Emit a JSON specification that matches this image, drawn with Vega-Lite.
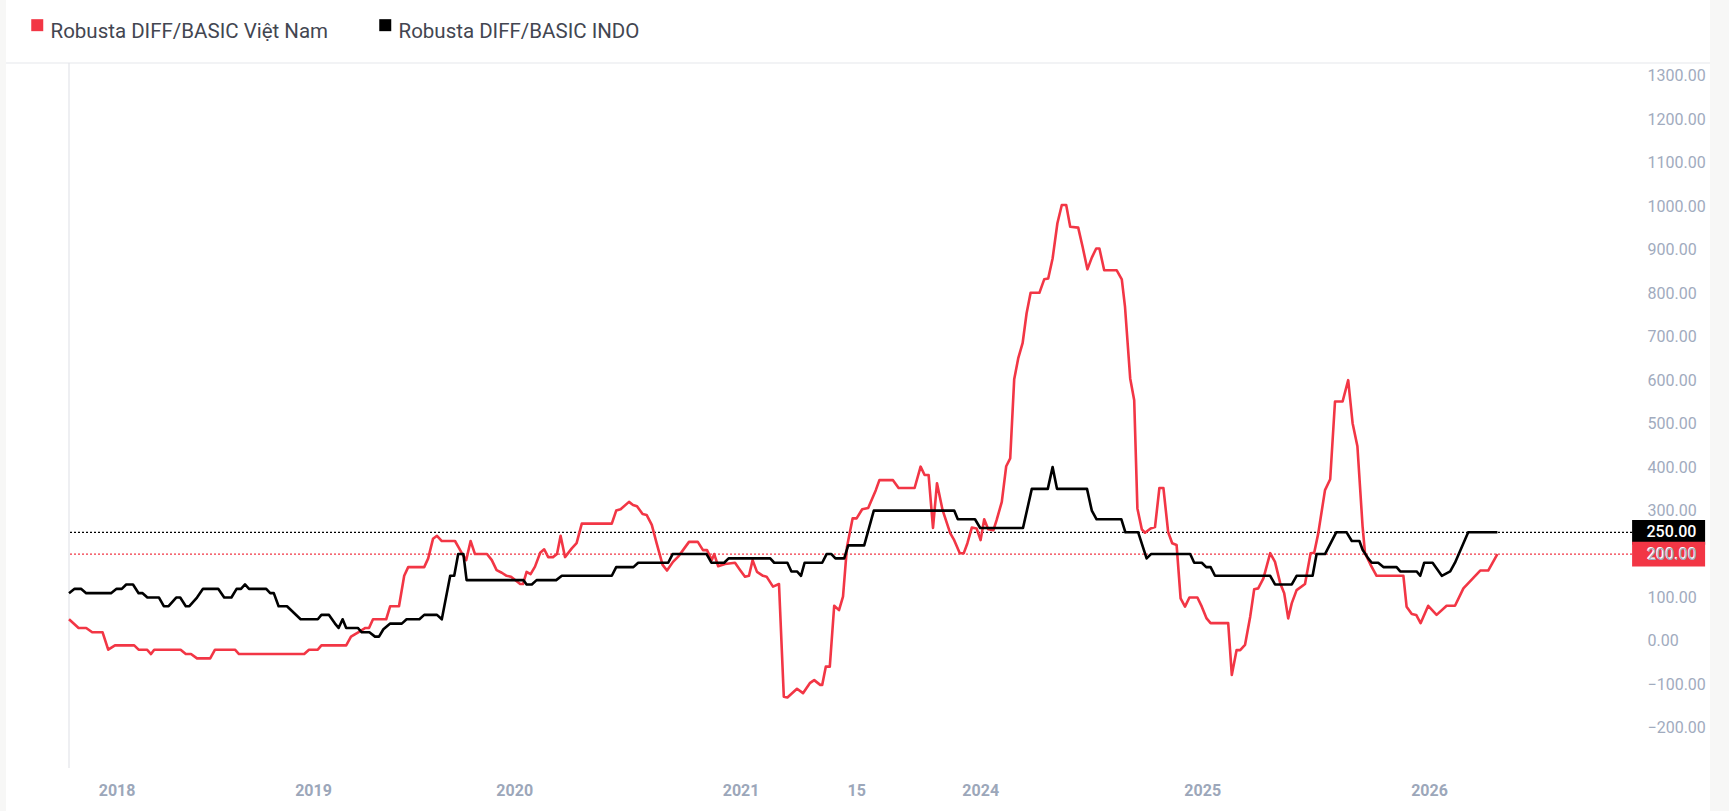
{
  "$schema": "https://vega.github.io/schema/vega-lite/v6.json",
  "width": 1563,
  "height": 705,
  "autosize": {"type": "none"},
  "padding": {"left": 69, "top": 63, "right": 97, "bottom": 43},
  "background": "#f7f7f6",
  "config": {"view": {"stroke": null}, "font": "Roboto"},
  "datasets": {
    "last": [
      {"s": "Robusta DIFF/BASIC INDO", "v": 250},
      {"s": "Robusta DIFF/BASIC Việt Nam", "v": 200}
    ],
    "frame": [{"k": 1}],
    "lines": [
      {"s":"Robusta DIFF/BASIC Việt Nam","i":0,"v":50},{"s":"Robusta DIFF/BASIC Việt Nam","i":2.4,"v":30},{"s":"Robusta DIFF/BASIC Việt Nam","i":4.3,"v":30},{"s":"Robusta DIFF/BASIC Việt Nam","i":5.8,"v":20},{"s":"Robusta DIFF/BASIC Việt Nam","i":8.4,"v":20},{"s":"Robusta DIFF/BASIC Việt Nam","i":9.8,"v":-20},{"s":"Robusta DIFF/BASIC Việt Nam","i":11.5,"v":-10},{"s":"Robusta DIFF/BASIC Việt Nam","i":16.3,"v":-10},{"s":"Robusta DIFF/BASIC Việt Nam","i":17.4,"v":-20},{"s":"Robusta DIFF/BASIC Việt Nam","i":19.5,"v":-20},{"s":"Robusta DIFF/BASIC Việt Nam","i":20.5,"v":-30},{"s":"Robusta DIFF/BASIC Việt Nam","i":21.3,"v":-20},{"s":"Robusta DIFF/BASIC Việt Nam","i":27.9,"v":-20},{"s":"Robusta DIFF/BASIC Việt Nam","i":29.2,"v":-30},{"s":"Robusta DIFF/BASIC Việt Nam","i":30.5,"v":-30},{"s":"Robusta DIFF/BASIC Việt Nam","i":32,"v":-40},{"s":"Robusta DIFF/BASIC Việt Nam","i":35.3,"v":-40},{"s":"Robusta DIFF/BASIC Việt Nam","i":36.5,"v":-20},{"s":"Robusta DIFF/BASIC Việt Nam","i":41.5,"v":-20},{"s":"Robusta DIFF/BASIC Việt Nam","i":42.5,"v":-30},{"s":"Robusta DIFF/BASIC Việt Nam","i":58.8,"v":-30},{"s":"Robusta DIFF/BASIC Việt Nam","i":60,"v":-20},{"s":"Robusta DIFF/BASIC Việt Nam","i":62.2,"v":-20},{"s":"Robusta DIFF/BASIC Việt Nam","i":63.1,"v":-10},{"s":"Robusta DIFF/BASIC Việt Nam","i":69.3,"v":-10},{"s":"Robusta DIFF/BASIC Việt Nam","i":70.5,"v":10},{"s":"Robusta DIFF/BASIC Việt Nam","i":72.3,"v":20},{"s":"Robusta DIFF/BASIC Việt Nam","i":74.1,"v":30},{"s":"Robusta DIFF/BASIC Việt Nam","i":75,"v":30},{"s":"Robusta DIFF/BASIC Việt Nam","i":76,"v":50},{"s":"Robusta DIFF/BASIC Việt Nam","i":79.3,"v":50},{"s":"Robusta DIFF/BASIC Việt Nam","i":80.3,"v":80},{"s":"Robusta DIFF/BASIC Việt Nam","i":82.5,"v":80},{"s":"Robusta DIFF/BASIC Việt Nam","i":83.8,"v":150},{"s":"Robusta DIFF/BASIC Việt Nam","i":84.8,"v":170},{"s":"Robusta DIFF/BASIC Việt Nam","i":88.8,"v":170},{"s":"Robusta DIFF/BASIC Việt Nam","i":89.8,"v":190},{"s":"Robusta DIFF/BASIC Việt Nam","i":91,"v":235},{"s":"Robusta DIFF/BASIC Việt Nam","i":92,"v":242},{"s":"Robusta DIFF/BASIC Việt Nam","i":93.2,"v":230},{"s":"Robusta DIFF/BASIC Việt Nam","i":96.5,"v":230},{"s":"Robusta DIFF/BASIC Việt Nam","i":97.3,"v":217},{"s":"Robusta DIFF/BASIC Việt Nam","i":98.2,"v":202},{"s":"Robusta DIFF/BASIC Việt Nam","i":99.3,"v":186},{"s":"Robusta DIFF/BASIC Việt Nam","i":100.4,"v":230},{"s":"Robusta DIFF/BASIC Việt Nam","i":101.5,"v":200},{"s":"Robusta DIFF/BASIC Việt Nam","i":104.5,"v":200},{"s":"Robusta DIFF/BASIC Việt Nam","i":105.7,"v":186},{"s":"Robusta DIFF/BASIC Việt Nam","i":106.9,"v":163},{"s":"Robusta DIFF/BASIC Việt Nam","i":108.2,"v":157},{"s":"Robusta DIFF/BASIC Việt Nam","i":109.4,"v":150},{"s":"Robusta DIFF/BASIC Việt Nam","i":110.5,"v":148},{"s":"Robusta DIFF/BASIC Việt Nam","i":112.8,"v":131},{"s":"Robusta DIFF/BASIC Việt Nam","i":113.5,"v":131},{"s":"Robusta DIFF/BASIC Việt Nam","i":114.4,"v":159},{"s":"Robusta DIFF/BASIC Việt Nam","i":115.4,"v":154},{"s":"Robusta DIFF/BASIC Việt Nam","i":116.5,"v":171},{"s":"Robusta DIFF/BASIC Việt Nam","i":117.8,"v":203},{"s":"Robusta DIFF/BASIC Việt Nam","i":118.8,"v":211},{"s":"Robusta DIFF/BASIC Việt Nam","i":119.8,"v":193},{"s":"Robusta DIFF/BASIC Việt Nam","i":121,"v":193},{"s":"Robusta DIFF/BASIC Việt Nam","i":122,"v":200},{"s":"Robusta DIFF/BASIC Việt Nam","i":122.9,"v":242},{"s":"Robusta DIFF/BASIC Việt Nam","i":124,"v":193},{"s":"Robusta DIFF/BASIC Việt Nam","i":125.7,"v":213},{"s":"Robusta DIFF/BASIC Việt Nam","i":126.9,"v":225},{"s":"Robusta DIFF/BASIC Việt Nam","i":128.2,"v":270},{"s":"Robusta DIFF/BASIC Việt Nam","i":135.7,"v":270},{"s":"Robusta DIFF/BASIC Việt Nam","i":136.8,"v":300},{"s":"Robusta DIFF/BASIC Việt Nam","i":137.9,"v":303},{"s":"Robusta DIFF/BASIC Việt Nam","i":140,"v":320},{"s":"Robusta DIFF/BASIC Việt Nam","i":141,"v":313},{"s":"Robusta DIFF/BASIC Việt Nam","i":142,"v":310},{"s":"Robusta DIFF/BASIC Việt Nam","i":143.4,"v":292},{"s":"Robusta DIFF/BASIC Việt Nam","i":144.4,"v":290},{"s":"Robusta DIFF/BASIC Việt Nam","i":145.7,"v":267},{"s":"Robusta DIFF/BASIC Việt Nam","i":146.9,"v":225},{"s":"Robusta DIFF/BASIC Việt Nam","i":148.4,"v":175},{"s":"Robusta DIFF/BASIC Việt Nam","i":149.5,"v":162},{"s":"Robusta DIFF/BASIC Việt Nam","i":151,"v":182},{"s":"Robusta DIFF/BASIC Việt Nam","i":152.3,"v":194},{"s":"Robusta DIFF/BASIC Việt Nam","i":153.5,"v":209},{"s":"Robusta DIFF/BASIC Việt Nam","i":155,"v":228},{"s":"Robusta DIFF/BASIC Việt Nam","i":157.2,"v":228},{"s":"Robusta DIFF/BASIC Việt Nam","i":158.5,"v":209},{"s":"Robusta DIFF/BASIC Việt Nam","i":159.5,"v":209},{"s":"Robusta DIFF/BASIC Việt Nam","i":160.7,"v":186},{"s":"Robusta DIFF/BASIC Việt Nam","i":161.3,"v":200},{"s":"Robusta DIFF/BASIC Việt Nam","i":162.3,"v":172},{"s":"Robusta DIFF/BASIC Việt Nam","i":164,"v":177},{"s":"Robusta DIFF/BASIC Việt Nam","i":166.5,"v":180},{"s":"Robusta DIFF/BASIC Việt Nam","i":167.8,"v":163},{"s":"Robusta DIFF/BASIC Việt Nam","i":169,"v":148},{"s":"Robusta DIFF/BASIC Việt Nam","i":170,"v":150},{"s":"Robusta DIFF/BASIC Việt Nam","i":170.9,"v":186},{"s":"Robusta DIFF/BASIC Việt Nam","i":172,"v":159},{"s":"Robusta DIFF/BASIC Việt Nam","i":173.5,"v":150},{"s":"Robusta DIFF/BASIC Việt Nam","i":174.4,"v":148},{"s":"Robusta DIFF/BASIC Việt Nam","i":176,"v":125},{"s":"Robusta DIFF/BASIC Việt Nam","i":177.5,"v":131},{"s":"Robusta DIFF/BASIC Việt Nam","i":178.7,"v":-128},{"s":"Robusta DIFF/BASIC Việt Nam","i":179.6,"v":-130},{"s":"Robusta DIFF/BASIC Việt Nam","i":182,"v":-110},{"s":"Robusta DIFF/BASIC Việt Nam","i":183.5,"v":-120},{"s":"Robusta DIFF/BASIC Việt Nam","i":185.2,"v":-97},{"s":"Robusta DIFF/BASIC Việt Nam","i":186.3,"v":-90},{"s":"Robusta DIFF/BASIC Việt Nam","i":187.8,"v":-101},{"s":"Robusta DIFF/BASIC Việt Nam","i":188.3,"v":-101},{"s":"Robusta DIFF/BASIC Việt Nam","i":189.2,"v":-59},{"s":"Robusta DIFF/BASIC Việt Nam","i":190.2,"v":-59},{"s":"Robusta DIFF/BASIC Việt Nam","i":191.3,"v":81},{"s":"Robusta DIFF/BASIC Việt Nam","i":192.5,"v":71},{"s":"Robusta DIFF/BASIC Việt Nam","i":193.5,"v":102},{"s":"Robusta DIFF/BASIC Việt Nam","i":194.5,"v":217},{"s":"Robusta DIFF/BASIC Việt Nam","i":195.9,"v":282},{"s":"Robusta DIFF/BASIC Việt Nam","i":196.9,"v":282},{"s":"Robusta DIFF/BASIC Việt Nam","i":198.3,"v":303},{"s":"Robusta DIFF/BASIC Việt Nam","i":199.8,"v":306},{"s":"Robusta DIFF/BASIC Việt Nam","i":201.7,"v":347},{"s":"Robusta DIFF/BASIC Việt Nam","i":202.6,"v":370},{"s":"Robusta DIFF/BASIC Việt Nam","i":206,"v":370},{"s":"Robusta DIFF/BASIC Việt Nam","i":207.4,"v":352},{"s":"Robusta DIFF/BASIC Việt Nam","i":211.4,"v":352},{"s":"Robusta DIFF/BASIC Việt Nam","i":212.9,"v":401},{"s":"Robusta DIFF/BASIC Việt Nam","i":213.9,"v":382},{"s":"Robusta DIFF/BASIC Việt Nam","i":214.9,"v":382},{"s":"Robusta DIFF/BASIC Việt Nam","i":216,"v":260},{"s":"Robusta DIFF/BASIC Việt Nam","i":217,"v":363},{"s":"Robusta DIFF/BASIC Việt Nam","i":218.4,"v":301},{"s":"Robusta DIFF/BASIC Việt Nam","i":220.3,"v":248},{"s":"Robusta DIFF/BASIC Việt Nam","i":221.3,"v":232},{"s":"Robusta DIFF/BASIC Việt Nam","i":222.7,"v":202},{"s":"Robusta DIFF/BASIC Việt Nam","i":223.7,"v":202},{"s":"Robusta DIFF/BASIC Việt Nam","i":224.6,"v":225},{"s":"Robusta DIFF/BASIC Việt Nam","i":225.7,"v":261},{"s":"Robusta DIFF/BASIC Việt Nam","i":226.9,"v":259},{"s":"Robusta DIFF/BASIC Việt Nam","i":227.9,"v":232},{"s":"Robusta DIFF/BASIC Việt Nam","i":228.8,"v":280},{"s":"Robusta DIFF/BASIC Việt Nam","i":229.8,"v":257},{"s":"Robusta DIFF/BASIC Việt Nam","i":231.1,"v":255},{"s":"Robusta DIFF/BASIC Việt Nam","i":231.9,"v":278},{"s":"Robusta DIFF/BASIC Việt Nam","i":233.2,"v":320},{"s":"Robusta DIFF/BASIC Việt Nam","i":234.3,"v":402},{"s":"Robusta DIFF/BASIC Việt Nam","i":235.3,"v":420},{"s":"Robusta DIFF/BASIC Việt Nam","i":236.3,"v":602},{"s":"Robusta DIFF/BASIC Việt Nam","i":237.3,"v":650},{"s":"Robusta DIFF/BASIC Việt Nam","i":238.4,"v":685},{"s":"Robusta DIFF/BASIC Việt Nam","i":239.4,"v":754},{"s":"Robusta DIFF/BASIC Việt Nam","i":240.4,"v":801},{"s":"Robusta DIFF/BASIC Việt Nam","i":242.6,"v":801},{"s":"Robusta DIFF/BASIC Việt Nam","i":243.8,"v":832},{"s":"Robusta DIFF/BASIC Việt Nam","i":244.8,"v":834},{"s":"Robusta DIFF/BASIC Việt Nam","i":245.9,"v":880},{"s":"Robusta DIFF/BASIC Việt Nam","i":247.1,"v":961},{"s":"Robusta DIFF/BASIC Việt Nam","i":248.2,"v":1003},{"s":"Robusta DIFF/BASIC Việt Nam","i":249.3,"v":1003},{"s":"Robusta DIFF/BASIC Việt Nam","i":250.3,"v":953},{"s":"Robusta DIFF/BASIC Việt Nam","i":252.3,"v":951},{"s":"Robusta DIFF/BASIC Việt Nam","i":253.4,"v":907},{"s":"Robusta DIFF/BASIC Việt Nam","i":254.6,"v":855},{"s":"Robusta DIFF/BASIC Việt Nam","i":255.7,"v":882},{"s":"Robusta DIFF/BASIC Việt Nam","i":256.8,"v":903},{"s":"Robusta DIFF/BASIC Việt Nam","i":257.6,"v":903},{"s":"Robusta DIFF/BASIC Việt Nam","i":258.8,"v":853},{"s":"Robusta DIFF/BASIC Việt Nam","i":261.9,"v":853},{"s":"Robusta DIFF/BASIC Việt Nam","i":263.2,"v":832},{"s":"Robusta DIFF/BASIC Việt Nam","i":264,"v":769},{"s":"Robusta DIFF/BASIC Việt Nam","i":265.3,"v":604},{"s":"Robusta DIFF/BASIC Việt Nam","i":266.3,"v":554},{"s":"Robusta DIFF/BASIC Việt Nam","i":267.1,"v":305},{"s":"Robusta DIFF/BASIC Việt Nam","i":268.2,"v":257},{"s":"Robusta DIFF/BASIC Việt Nam","i":269,"v":249},{"s":"Robusta DIFF/BASIC Việt Nam","i":270.4,"v":259},{"s":"Robusta DIFF/BASIC Việt Nam","i":271.5,"v":262},{"s":"Robusta DIFF/BASIC Việt Nam","i":272.6,"v":352},{"s":"Robusta DIFF/BASIC Việt Nam","i":273.6,"v":352},{"s":"Robusta DIFF/BASIC Việt Nam","i":274.8,"v":250},{"s":"Robusta DIFF/BASIC Việt Nam","i":275.8,"v":225},{"s":"Robusta DIFF/BASIC Việt Nam","i":276.9,"v":221},{"s":"Robusta DIFF/BASIC Việt Nam","i":277.9,"v":98},{"s":"Robusta DIFF/BASIC Việt Nam","i":279,"v":79},{"s":"Robusta DIFF/BASIC Việt Nam","i":280.1,"v":100},{"s":"Robusta DIFF/BASIC Việt Nam","i":282.1,"v":100},{"s":"Robusta DIFF/BASIC Việt Nam","i":283.2,"v":79},{"s":"Robusta DIFF/BASIC Việt Nam","i":284.4,"v":52},{"s":"Robusta DIFF/BASIC Việt Nam","i":285.4,"v":41},{"s":"Robusta DIFF/BASIC Việt Nam","i":289.8,"v":41},{"s":"Robusta DIFF/BASIC Việt Nam","i":290.7,"v":-78},{"s":"Robusta DIFF/BASIC Việt Nam","i":291.9,"v":-21},{"s":"Robusta DIFF/BASIC Việt Nam","i":292.8,"v":-21},{"s":"Robusta DIFF/BASIC Việt Nam","i":294,"v":-9},{"s":"Robusta DIFF/BASIC Việt Nam","i":295.3,"v":56},{"s":"Robusta DIFF/BASIC Việt Nam","i":296.3,"v":119},{"s":"Robusta DIFF/BASIC Việt Nam","i":297.3,"v":121},{"s":"Robusta DIFF/BASIC Việt Nam","i":298.6,"v":144},{"s":"Robusta DIFF/BASIC Việt Nam","i":300.3,"v":202},{"s":"Robusta DIFF/BASIC Việt Nam","i":301.5,"v":182},{"s":"Robusta DIFF/BASIC Việt Nam","i":302.8,"v":133},{"s":"Robusta DIFF/BASIC Việt Nam","i":303.8,"v":110},{"s":"Robusta DIFF/BASIC Việt Nam","i":304.8,"v":52},{"s":"Robusta DIFF/BASIC Việt Nam","i":305.7,"v":87},{"s":"Robusta DIFF/BASIC Việt Nam","i":306.9,"v":117},{"s":"Robusta DIFF/BASIC Việt Nam","i":309,"v":131},{"s":"Robusta DIFF/BASIC Việt Nam","i":310.4,"v":202},{"s":"Robusta DIFF/BASIC Việt Nam","i":311.3,"v":203},{"s":"Robusta DIFF/BASIC Việt Nam","i":312.3,"v":247},{"s":"Robusta DIFF/BASIC Việt Nam","i":314,"v":347},{"s":"Robusta DIFF/BASIC Việt Nam","i":315.3,"v":372},{"s":"Robusta DIFF/BASIC Việt Nam","i":316.5,"v":551},{"s":"Robusta DIFF/BASIC Việt Nam","i":318.4,"v":551},{"s":"Robusta DIFF/BASIC Việt Nam","i":319.8,"v":600},{"s":"Robusta DIFF/BASIC Việt Nam","i":320.9,"v":501},{"s":"Robusta DIFF/BASIC Việt Nam","i":322.1,"v":448},{"s":"Robusta DIFF/BASIC Việt Nam","i":323.4,"v":263},{"s":"Robusta DIFF/BASIC Việt Nam","i":324,"v":202},{"s":"Robusta DIFF/BASIC Việt Nam","i":325.3,"v":177},{"s":"Robusta DIFF/BASIC Việt Nam","i":326.9,"v":150},{"s":"Robusta DIFF/BASIC Việt Nam","i":333.6,"v":150},{"s":"Robusta DIFF/BASIC Việt Nam","i":334.4,"v":79},{"s":"Robusta DIFF/BASIC Việt Nam","i":335.7,"v":62},{"s":"Robusta DIFF/BASIC Việt Nam","i":336.8,"v":60},{"s":"Robusta DIFF/BASIC Việt Nam","i":337.9,"v":41},{"s":"Robusta DIFF/BASIC Việt Nam","i":339.8,"v":81},{"s":"Robusta DIFF/BASIC Việt Nam","i":341.9,"v":60},{"s":"Robusta DIFF/BASIC Việt Nam","i":344.4,"v":81},{"s":"Robusta DIFF/BASIC Việt Nam","i":346.5,"v":81},{"s":"Robusta DIFF/BASIC Việt Nam","i":348.6,"v":121},{"s":"Robusta DIFF/BASIC Việt Nam","i":352.8,"v":162},{"s":"Robusta DIFF/BASIC Việt Nam","i":354.8,"v":162},{"s":"Robusta DIFF/BASIC Việt Nam","i":357.1,"v":200},
      {"s":"Robusta DIFF/BASIC INDO","i":0,"v":110},{"s":"Robusta DIFF/BASIC INDO","i":1.4,"v":120},{"s":"Robusta DIFF/BASIC INDO","i":3,"v":120},{"s":"Robusta DIFF/BASIC INDO","i":4.3,"v":110},{"s":"Robusta DIFF/BASIC INDO","i":10.5,"v":110},{"s":"Robusta DIFF/BASIC INDO","i":11.9,"v":120},{"s":"Robusta DIFF/BASIC INDO","i":13.2,"v":120},{"s":"Robusta DIFF/BASIC INDO","i":14.3,"v":130},{"s":"Robusta DIFF/BASIC INDO","i":16,"v":130},{"s":"Robusta DIFF/BASIC INDO","i":17.4,"v":110},{"s":"Robusta DIFF/BASIC INDO","i":18.4,"v":110},{"s":"Robusta DIFF/BASIC INDO","i":19.6,"v":100},{"s":"Robusta DIFF/BASIC INDO","i":22.5,"v":100},{"s":"Robusta DIFF/BASIC INDO","i":23.7,"v":80},{"s":"Robusta DIFF/BASIC INDO","i":24.9,"v":80},{"s":"Robusta DIFF/BASIC INDO","i":26.8,"v":100},{"s":"Robusta DIFF/BASIC INDO","i":27.8,"v":100},{"s":"Robusta DIFF/BASIC INDO","i":29.2,"v":80},{"s":"Robusta DIFF/BASIC INDO","i":30.1,"v":80},{"s":"Robusta DIFF/BASIC INDO","i":32,"v":100},{"s":"Robusta DIFF/BASIC INDO","i":33.5,"v":120},{"s":"Robusta DIFF/BASIC INDO","i":37.3,"v":120},{"s":"Robusta DIFF/BASIC INDO","i":38.8,"v":100},{"s":"Robusta DIFF/BASIC INDO","i":40.6,"v":100},{"s":"Robusta DIFF/BASIC INDO","i":41.9,"v":120},{"s":"Robusta DIFF/BASIC INDO","i":43,"v":120},{"s":"Robusta DIFF/BASIC INDO","i":44,"v":130},{"s":"Robusta DIFF/BASIC INDO","i":45,"v":120},{"s":"Robusta DIFF/BASIC INDO","i":49.3,"v":120},{"s":"Robusta DIFF/BASIC INDO","i":50.3,"v":110},{"s":"Robusta DIFF/BASIC INDO","i":51.2,"v":110},{"s":"Robusta DIFF/BASIC INDO","i":52.4,"v":80},{"s":"Robusta DIFF/BASIC INDO","i":54.5,"v":80},{"s":"Robusta DIFF/BASIC INDO","i":57.9,"v":50},{"s":"Robusta DIFF/BASIC INDO","i":62.2,"v":50},{"s":"Robusta DIFF/BASIC INDO","i":63.1,"v":60},{"s":"Robusta DIFF/BASIC INDO","i":65,"v":60},{"s":"Robusta DIFF/BASIC INDO","i":66.5,"v":40},{"s":"Robusta DIFF/BASIC INDO","i":67.4,"v":30},{"s":"Robusta DIFF/BASIC INDO","i":68.4,"v":50},{"s":"Robusta DIFF/BASIC INDO","i":69.3,"v":30},{"s":"Robusta DIFF/BASIC INDO","i":72.2,"v":30},{"s":"Robusta DIFF/BASIC INDO","i":73.2,"v":20},{"s":"Robusta DIFF/BASIC INDO","i":75.1,"v":20},{"s":"Robusta DIFF/BASIC INDO","i":76.5,"v":10},{"s":"Robusta DIFF/BASIC INDO","i":77.5,"v":10},{"s":"Robusta DIFF/BASIC INDO","i":78.6,"v":27},{"s":"Robusta DIFF/BASIC INDO","i":80.3,"v":40},{"s":"Robusta DIFF/BASIC INDO","i":83.2,"v":40},{"s":"Robusta DIFF/BASIC INDO","i":84.4,"v":50},{"s":"Robusta DIFF/BASIC INDO","i":87.6,"v":50},{"s":"Robusta DIFF/BASIC INDO","i":88.8,"v":60},{"s":"Robusta DIFF/BASIC INDO","i":92,"v":60},{"s":"Robusta DIFF/BASIC INDO","i":93.2,"v":50},{"s":"Robusta DIFF/BASIC INDO","i":95.3,"v":150},{"s":"Robusta DIFF/BASIC INDO","i":96.3,"v":150},{"s":"Robusta DIFF/BASIC INDO","i":97.3,"v":200},{"s":"Robusta DIFF/BASIC INDO","i":98.6,"v":200},{"s":"Robusta DIFF/BASIC INDO","i":99.4,"v":140},{"s":"Robusta DIFF/BASIC INDO","i":113.6,"v":140},{"s":"Robusta DIFF/BASIC INDO","i":114.4,"v":130},{"s":"Robusta DIFF/BASIC INDO","i":115.7,"v":130},{"s":"Robusta DIFF/BASIC INDO","i":116.9,"v":140},{"s":"Robusta DIFF/BASIC INDO","i":121.8,"v":140},{"s":"Robusta DIFF/BASIC INDO","i":123.2,"v":150},{"s":"Robusta DIFF/BASIC INDO","i":135.7,"v":150},{"s":"Robusta DIFF/BASIC INDO","i":136.8,"v":170},{"s":"Robusta DIFF/BASIC INDO","i":141.1,"v":170},{"s":"Robusta DIFF/BASIC INDO","i":142.3,"v":180},{"s":"Robusta DIFF/BASIC INDO","i":149.8,"v":180},{"s":"Robusta DIFF/BASIC INDO","i":150.9,"v":200},{"s":"Robusta DIFF/BASIC INDO","i":159.4,"v":200},{"s":"Robusta DIFF/BASIC INDO","i":160.6,"v":180},{"s":"Robusta DIFF/BASIC INDO","i":163.8,"v":180},{"s":"Robusta DIFF/BASIC INDO","i":164.9,"v":190},{"s":"Robusta DIFF/BASIC INDO","i":175.3,"v":190},{"s":"Robusta DIFF/BASIC INDO","i":176.3,"v":180},{"s":"Robusta DIFF/BASIC INDO","i":179.6,"v":180},{"s":"Robusta DIFF/BASIC INDO","i":180.6,"v":160},{"s":"Robusta DIFF/BASIC INDO","i":182,"v":160},{"s":"Robusta DIFF/BASIC INDO","i":183,"v":150},{"s":"Robusta DIFF/BASIC INDO","i":183.9,"v":180},{"s":"Robusta DIFF/BASIC INDO","i":188.3,"v":180},{"s":"Robusta DIFF/BASIC INDO","i":189.4,"v":200},{"s":"Robusta DIFF/BASIC INDO","i":190.6,"v":200},{"s":"Robusta DIFF/BASIC INDO","i":191.6,"v":190},{"s":"Robusta DIFF/BASIC INDO","i":193.8,"v":190},{"s":"Robusta DIFF/BASIC INDO","i":194.8,"v":220},{"s":"Robusta DIFF/BASIC INDO","i":198.8,"v":220},{"s":"Robusta DIFF/BASIC INDO","i":201.2,"v":300},{"s":"Robusta DIFF/BASIC INDO","i":221.3,"v":300},{"s":"Robusta DIFF/BASIC INDO","i":222.2,"v":280},{"s":"Robusta DIFF/BASIC INDO","i":226.5,"v":280},{"s":"Robusta DIFF/BASIC INDO","i":227.8,"v":260},{"s":"Robusta DIFF/BASIC INDO","i":238.5,"v":260},{"s":"Robusta DIFF/BASIC INDO","i":240.7,"v":350},{"s":"Robusta DIFF/BASIC INDO","i":244.7,"v":350},{"s":"Robusta DIFF/BASIC INDO","i":245.9,"v":400},{"s":"Robusta DIFF/BASIC INDO","i":247,"v":350},{"s":"Robusta DIFF/BASIC INDO","i":254.5,"v":350},{"s":"Robusta DIFF/BASIC INDO","i":255.7,"v":300},{"s":"Robusta DIFF/BASIC INDO","i":256.9,"v":280},{"s":"Robusta DIFF/BASIC INDO","i":263.1,"v":280},{"s":"Robusta DIFF/BASIC INDO","i":264.1,"v":250},{"s":"Robusta DIFF/BASIC INDO","i":267.3,"v":250},{"s":"Robusta DIFF/BASIC INDO","i":269.4,"v":190},{"s":"Robusta DIFF/BASIC INDO","i":270.5,"v":200},{"s":"Robusta DIFF/BASIC INDO","i":280.3,"v":200},{"s":"Robusta DIFF/BASIC INDO","i":281.3,"v":180},{"s":"Robusta DIFF/BASIC INDO","i":283.2,"v":180},{"s":"Robusta DIFF/BASIC INDO","i":284.3,"v":170},{"s":"Robusta DIFF/BASIC INDO","i":285.4,"v":170},{"s":"Robusta DIFF/BASIC INDO","i":286.5,"v":150},{"s":"Robusta DIFF/BASIC INDO","i":300.3,"v":150},{"s":"Robusta DIFF/BASIC INDO","i":301.5,"v":130},{"s":"Robusta DIFF/BASIC INDO","i":305.7,"v":130},{"s":"Robusta DIFF/BASIC INDO","i":306.9,"v":150},{"s":"Robusta DIFF/BASIC INDO","i":310.9,"v":150},{"s":"Robusta DIFF/BASIC INDO","i":311.9,"v":200},{"s":"Robusta DIFF/BASIC INDO","i":314,"v":200},{"s":"Robusta DIFF/BASIC INDO","i":316.8,"v":250},{"s":"Robusta DIFF/BASIC INDO","i":319.4,"v":250},{"s":"Robusta DIFF/BASIC INDO","i":320.7,"v":230},{"s":"Robusta DIFF/BASIC INDO","i":322.6,"v":230},{"s":"Robusta DIFF/BASIC INDO","i":323.4,"v":210},{"s":"Robusta DIFF/BASIC INDO","i":324.8,"v":190},{"s":"Robusta DIFF/BASIC INDO","i":325.7,"v":180},{"s":"Robusta DIFF/BASIC INDO","i":327.3,"v":180},{"s":"Robusta DIFF/BASIC INDO","i":328.6,"v":170},{"s":"Robusta DIFF/BASIC INDO","i":331.9,"v":170},{"s":"Robusta DIFF/BASIC INDO","i":332.8,"v":160},{"s":"Robusta DIFF/BASIC INDO","i":336.9,"v":160},{"s":"Robusta DIFF/BASIC INDO","i":337.8,"v":150},{"s":"Robusta DIFF/BASIC INDO","i":338.8,"v":180},{"s":"Robusta DIFF/BASIC INDO","i":340.9,"v":180},{"s":"Robusta DIFF/BASIC INDO","i":343.2,"v":150},{"s":"Robusta DIFF/BASIC INDO","i":345.3,"v":160},{"s":"Robusta DIFF/BASIC INDO","i":346.5,"v":180},{"s":"Robusta DIFF/BASIC INDO","i":349.8,"v":250},{"s":"Robusta DIFF/BASIC INDO","i":357.1,"v":250}
    ]
  },
  "layer": [
    {
      "data": {"name": "frame"},
      "mark": {"type": "rect", "color": "#ffffff", "clip": false},
      "encoding": {
        "x": {"datum": -15.75, "type": "quantitative", "scale": {"domain": [0, 390.75], "nice": false, "zero": false}},
        "x2": {"datum": 410.25},
        "y": {"datum": 1480, "type": "quantitative", "scale": {"domain": [-292.2, 1329.7], "nice": false, "zero": false}},
        "y2": {"datum": -400}
      }
    },
    {
      "data": {"name": "frame"},
      "mark": {"type": "rule", "color": "#eeeff2", "strokeWidth": 1.5, "clip": false},
      "encoding": {
        "x": {"datum": -15.75, "type": "quantitative", "scale": {"domain": [0, 390.75], "nice": false, "zero": false}},
        "x2": {"datum": 410.25},
        "y": {"datum": 1329.7, "type": "quantitative", "scale": {"domain": [-292.2, 1329.7], "nice": false, "zero": false}}
      }
    },
    {
      "data": {"name": "frame"},
      "mark": {"type": "rule", "color": "#e3e5ea", "strokeWidth": 1.2, "clip": false},
      "encoding": {
        "x": {"datum": 0, "type": "quantitative", "scale": {"domain": [0, 390.75], "nice": false, "zero": false}}
      }
    },
    {
      "data": {"name": "last"},
      "mark": {"type": "rule", "strokeDash": [2, 2], "strokeWidth": 1.3},
      "encoding": {
        "y": {"field": "v", "type": "quantitative", "scale": {"domain": [-292.2, 1329.7], "nice": false, "zero": false}},
        "color": {"field": "s", "type": "nominal"}
      }
    },
    {
      "data": {"name": "lines"},
      "mark": {"type": "line", "strokeWidth": 2.6, "strokeJoin": "round"},
      "encoding": {
        "x": {
          "field": "i", "type": "quantitative",
          "scale": {"domain": [0, 390.75], "nice": false, "zero": false},
          "axis": {
            "orient": "bottom", "title": null, "grid": false, "domain": false, "ticks": false,
            "values": [11.9, 61, 111.3, 167.9, 196.8, 227.8, 283.3, 340],
            "labelExpr": "datum.value < 30 ? '2018' : datum.value < 80 ? '2019' : datum.value < 140 ? '2020' : datum.value < 180 ? '2021' : datum.value < 210 ? '15' : datum.value < 250 ? '2024' : datum.value < 300 ? '2025' : '2026'",
            "labelPadding": 14, "labelFontSize": 16, "labelFontWeight": "bold", "labelColor": "#9ca7ba", "labelFont": "Roboto", "zindex": 1
          }
        },
        "y": {
          "field": "v", "type": "quantitative",
          "scale": {"domain": [-292.2, 1329.7], "nice": false, "zero": false},
          "axis": {
            "orient": "right", "title": null, "grid": false, "domain": false, "ticks": false,
            "values": [-200, -100, 0, 100, 200, 300, 400, 500, 600, 700, 800, 900, 1000, 1100, 1200, 1300],
            "format": ".2f", "labelAlign": "left", "labelPadding": 15, "labelFontSize": 16, "labelColor": "#a1abbe", "labelFont": "Roboto", "zindex": 1
          }
        },
        "color": {
          "field": "s", "type": "nominal",
          "scale": {"domain": ["Robusta DIFF/BASIC Việt Nam", "Robusta DIFF/BASIC INDO"], "range": ["#f23645", "#000000"]},
          "legend": {
            "orient": "none", "legendX": -42, "legendY": -41, "direction": "horizontal", "title": null, "zindex": 2,
            "symbolType": "M-1,-2.2H1V-0.2H-1Z", "symbolSize": 144, "symbolStrokeWidth": 0,
            "labelFontSize": 20.5, "labelColor": "#434651", "labelFont": "Roboto", "labelLimit": 600,
            "labelOffset": 3, "columnPadding": 46, "padding": 0,
            "encode": {"symbols": {"update": {"fill": {"scale": "color", "field": "value"}, "stroke": {"value": "transparent"}, "opacity": {"value": 1}}}}
          }
        }
      }
    },
    {
      "data": {"name": "last"},
      "mark": {"type": "point", "shape": "M-1,-0.34H1V0.34H-1Z", "size": 5329, "filled": true, "opacity": 1, "clip": false},
      "encoding": {
        "x": {"datum": 399.9, "type": "quantitative", "scale": {"domain": [0, 390.75], "nice": false, "zero": false}},
        "y": {"field": "v", "type": "quantitative", "scale": {"domain": [-292.2, 1329.7], "nice": false, "zero": false}},
        "color": {"field": "s", "type": "nominal"}
      }
    },
    {
      "data": {"name": "last"},
      "mark": {"type": "text", "color": "#ffffff", "fontSize": 16, "fontWeight": 500, "font": "Roboto", "align": "center", "baseline": "middle", "clip": false},
      "encoding": {
        "x": {"datum": 400.6, "type": "quantitative", "scale": {"domain": [0, 390.75], "nice": false, "zero": false}},
        "y": {"field": "v", "type": "quantitative", "scale": {"domain": [-292.2, 1329.7], "nice": false, "zero": false}},
        "text": {"field": "v", "type": "quantitative", "format": ".2f"}
      }
    }
  ]
}
